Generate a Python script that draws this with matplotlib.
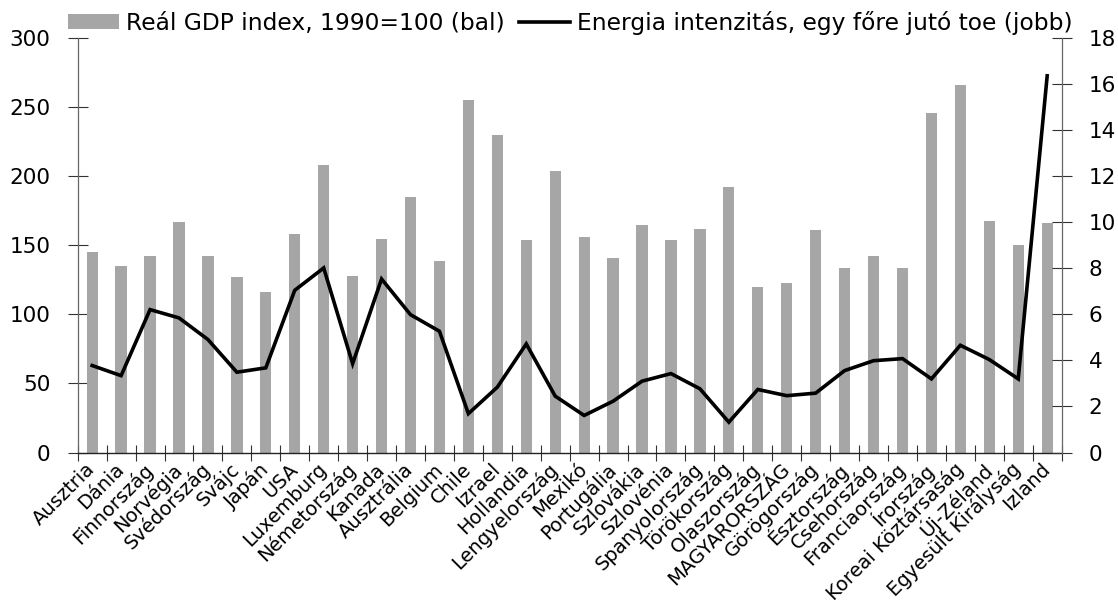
import matplotlib
matplotlib.use("Agg")
import matplotlib.pyplot as plt
import numpy as np

countries = ["Ausztria", "Dánia", "Finnország", "Norvégia", "Svédország", "Svájc",
             "Japán", "USA", "Luxemburg", "Németország", "Kanada", "Ausztrália",
             "Belgium", "Chile", "Izrael", "Hollandia", "Lengyelország", "Mexikó",
             "Portugália", "Szlovákia", "Szlovénia", "Spanyolország", "Törökország",
             "Olaszország", "MAGYARORSZÁG", "Görögország", "Észtország", "Csehország",
             "Franciaország", "Írország", "Koreai Köztársaság", "Új-Zéland",
             "Egyesült Királyság", "Izland"]

gdp_index = [145, 135, 142, 167, 142, 127, 116, 158, 208, 128, 155, 185, 139,
             255, 230, 154, 204, 156, 141, 165, 154, 162, 192, 120, 123, 161,
             134, 142, 134, 246, 266, 168, 150, 166]

energy_toe = [3.78, 3.34, 6.21, 5.85, 4.91, 3.49, 3.68, 7.05, 8.02, 3.86, 7.54,
              5.99, 5.27, 1.69, 2.84, 4.72, 2.45, 1.61, 2.23, 3.10, 3.43, 2.77,
              1.32, 2.74, 2.47, 2.58, 3.56, 3.99, 4.08, 3.20, 4.66, 4.04, 3.20,
              16.37]

left_ticks = [0, 50, 100, 150, 200, 250, 300]
right_ticks = [0, 2, 4, 6, 8, 10, 12, 14, 16, 18]

label_bar = "Reál GDP index, 1990=100 (bal)"
label_line = "Energia intenzitás, egy főre jutó toe (jobb)"

plt.rcParams['font.family'] = ['DejaVu Sans']

fig = plt.figure(figsize=(11.18, 6.07), dpi=100)
ax = fig.add_axes([0.0695, 0.2545, 0.8801, 0.6824])
x = np.arange(len(countries))
bars = ax.bar(x, gdp_index, width=0.39, color="#A6A6A6", label=label_bar, zorder=2)
ax.set_xlim(-0.5, len(countries) - 0.5)
ax.set_ylim(0, 300)
ax.set_yticks(left_ticks)
ax.set_xticks(np.arange(len(countries) + 1) - 0.5)
ax.set_xticklabels([])
ax.set_xticks(x, minor=True)
ax.set_xticklabels(countries, minor=True, rotation=45, ha='right',
                   rotation_mode='anchor', va='center', fontsize=14)
ax.tick_params(axis='x', which='major', direction='inout', length=12, width=0.8, color='#333333')
ax.tick_params(axis='x', which='minor', length=0, pad=10)
ax.tick_params(axis='y', direction='inout', length=15, width=0.8, labelsize=15.5, pad=12,
               color='#333333')
for s in ['top', 'right']:
    ax.spines[s].set_visible(False)
ax.spines['left'].set_color('#666666')
ax.spines['left'].set_linewidth(0.9)
ax.spines['bottom'].set_color('#222222')
ax.spines['bottom'].set_linewidth(1.0)

ax2 = ax.twinx()
line, = ax2.plot(x, energy_toe, color='black', linewidth=2.6, label=label_line,
                 solid_joinstyle='miter')
ax2.set_ylim(0, 18)
ax2.set_yticks(right_ticks)
ax2.tick_params(axis='y', direction='inout', length=15, width=0.8, labelsize=15.5, pad=12,
                color='#333333')
for s in ['top', 'left', 'bottom']:
    ax2.spines[s].set_visible(False)
ax2.spines['right'].set_color('#666666')
ax2.spines['right'].set_linewidth(0.9)

fig.legend([bars, line], [label_bar, label_line], loc='center',
           bbox_to_anchor=(0.510, 0.962), ncol=2, frameon=False, fontsize=16.8,
           handlelength=2.2, handleheight=0.6, handletextpad=0.3, columnspacing=0.6,
           borderpad=0, borderaxespad=0)

fig.savefig("out.png", dpi=100)
